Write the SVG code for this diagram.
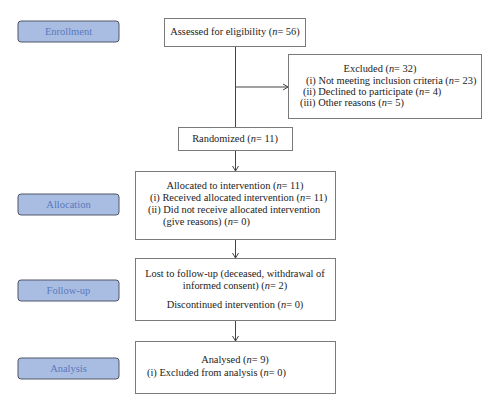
<svg xmlns="http://www.w3.org/2000/svg" width="500" height="412" viewBox="0 0 500 412">
<style>
.box{fill:#fff;stroke:#7a7a7a;stroke-width:1}
.lab{fill:#a9bde3;stroke:#4f5666;stroke-width:1}
.t{font-family:"Liberation Serif","Times New Roman",serif;font-size:10.4px;fill:#222}
.lt{font-family:"Liberation Serif","Times New Roman",serif;font-size:10.5px;fill:#5a78bd;text-anchor:middle}
.c{text-anchor:middle}
.ln{stroke:#444;stroke-width:1;fill:none}
</style>
<defs>
<marker id="arr" markerWidth="8" markerHeight="8" refX="6" refY="4" orient="auto" markerUnits="userSpaceOnUse">
<path d="M1,1 L6,4 L1,7" fill="none" stroke="#444" stroke-width="1"/>
</marker>
</defs>
<g id="label-enrollment"><rect class="lab" x="18" y="21" width="101" height="21" rx="3"/><text class="lt" x="68.5" y="35">Enrollment</text></g>
<g id="label-allocation"><rect class="lab" x="18" y="194" width="101" height="21" rx="3"/><text class="lt" x="68.5" y="208">Allocation</text></g>
<g id="label-followup"><rect class="lab" x="18" y="280" width="101" height="21" rx="3"/><text class="lt" x="68.5" y="294">Follow-up</text></g>
<g id="label-analysis"><rect class="lab" x="18" y="358" width="101" height="21" rx="3"/><text class="lt" x="68.5" y="372">Analysis</text></g>
<g id="connectors">
<line class="ln" x1="235.5" y1="46" x2="235.5" y2="127"/>
<line class="ln" x1="235.5" y1="87" x2="288" y2="87" marker-end="url(#arr)"/>
<line class="ln" x1="235.5" y1="151" x2="235.5" y2="171" marker-end="url(#arr)"/>
<line class="ln" x1="235.5" y1="239" x2="235.5" y2="258" marker-end="url(#arr)"/>
<line class="ln" x1="235.5" y1="321" x2="235.5" y2="341" marker-end="url(#arr)"/>
</g>
<g id="assessed"><rect class="box" x="164.5" y="18.5" width="141" height="28"/><text class="t c" x="235" y="35">Assessed for eligibility (<tspan font-style="italic">n</tspan>= 56)</text></g>
<g id="excluded"><rect class="box" x="288.5" y="54.5" width="193" height="64"/>
<text class="t c" x="380" y="72">Excluded (<tspan font-style="italic">n</tspan>= 32)</text>
<text class="t" x="306" y="84">(i) Not meeting inclusion criteria (<tspan font-style="italic">n</tspan>= 23)</text>
<text class="t" x="303" y="95">(ii) Declined to participate (<tspan font-style="italic">n</tspan>= 4)</text>
<text class="t" x="300" y="106">(iii) Other reasons (<tspan font-style="italic">n</tspan>= 5)</text>
</g>
<g id="randomized"><rect class="box" x="178.5" y="127.5" width="114" height="23"/><text class="t c" x="235" y="142">Randomized (<tspan font-style="italic">n</tspan>= 11)</text></g>
<g id="allocated"><rect class="box" x="135.5" y="171.5" width="200" height="68"/>
<text class="t c" x="235" y="189">Allocated to intervention (<tspan font-style="italic">n</tspan>= 11)</text>
<text class="t" x="150" y="201">(i) Received allocated intervention (<tspan font-style="italic">n</tspan>= 11)</text>
<text class="t" x="148" y="213">(ii) Did not receive allocated intervention</text>
<text class="t" x="163" y="225">(give reasons) (<tspan font-style="italic">n</tspan>= 0)</text>
</g>
<g id="followup"><rect class="box" x="135.5" y="258.5" width="200" height="62"/>
<text class="t c" x="235" y="277">Lost to follow-up (deceased, withdrawal of</text>
<text class="t c" x="235" y="289">informed consent) (<tspan font-style="italic">n</tspan>= 2)</text>
<text class="t c" x="235" y="308">Discontinued intervention (<tspan font-style="italic">n</tspan>= 0)</text>
</g>
<g id="analysis"><rect class="box" x="135.5" y="341.5" width="200" height="52"/>
<text class="t c" x="235" y="363">Analysed (<tspan font-style="italic">n</tspan>= 9)</text>
<text class="t" x="147" y="376">(i) Excluded from analysis (<tspan font-style="italic">n</tspan>= 0)</text>
</g>
</svg>
